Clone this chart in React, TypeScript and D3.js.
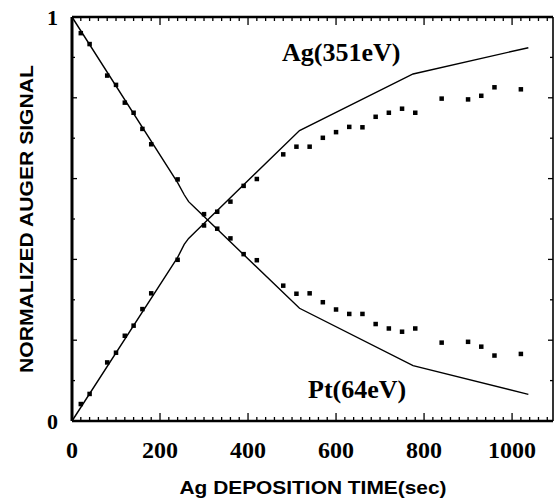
import { useEffect, useRef } from 'react';
import * as d3 from 'd3';

// measured Auger signals (squares)
const times = [20, 40, 80, 100, 120, 140, 160, 180, 240, 300, 330, 360, 390, 420, 480, 510, 540, 570, 600, 630, 660, 690, 720, 750, 780, 840, 900, 930, 960, 1020];
const ptSignal = [0.96, 0.933, 0.855, 0.832, 0.788, 0.763, 0.723, 0.685, 0.598, 0.512, 0.476, 0.452, 0.413, 0.398, 0.335, 0.315, 0.316, 0.294, 0.276, 0.265, 0.265, 0.24, 0.229, 0.221, 0.229, 0.194, 0.196, 0.184, 0.162, 0.166];
const agSignal = [0.042, 0.067, 0.145, 0.169, 0.211, 0.236, 0.277, 0.316, 0.399, 0.484, 0.518, 0.543, 0.582, 0.599, 0.66, 0.679, 0.679, 0.701, 0.715, 0.728, 0.727, 0.753, 0.763, 0.773, 0.763, 0.798, 0.796, 0.805, 0.826, 0.821];

// model curves (solid lines)
const modelTimes = [0, 240, 255, 265, 280, 517, 775, 1037];
const ptModel = [1, 0.59, 0.56, 0.543, 0.527, 0.279, 0.137, 0.066];
const agModel = [0, 0.405, 0.437, 0.452, 0.468, 0.719, 0.859, 0.924];

const xTickLabels = [0, 200, 400, 600, 800, 1000];
const yTickLabels = [0, 1];

const App = (): JSX.Element => {
  const svgRef = useRef<SVGSVGElement>(null);

  useEffect(() => {
    if (svgRef.current) {
      svgRef.current.innerHTML = '';
    }
    const width = 555;
    const height = 498;
    const left = 72;
    const right = 553;
    const top = 17;
    const bottom = 421;

    const x = d3.scaleLinear([0, 1093], [left, right]);
    const y = d3.scaleLinear([0, 1], [bottom, top]);

    const svg = d3
      .select(svgRef.current)
      .attr('width', width)
      .attr('height', height)
      .attr('viewBox', [0, 0, width, height]);

    svg.append('rect').attr('width', width).attr('height', height).attr('fill', '#fff');

    // ticks, all pointing inward
    const minorX = d3.range(0, 1093, 20);
    const tickG = svg.append('g').attr('stroke', '#000').attr('stroke-width', 1.3);
    minorX.forEach((t) => {
      const len = t % 200 === 0 ? 8 : 4;
      tickG.append('line').attr('x1', x(t)).attr('x2', x(t)).attr('y1', bottom).attr('y2', bottom - len);
      tickG.append('line').attr('x1', x(t)).attr('x2', x(t)).attr('y1', top).attr('y2', top + len);
    });
    d3.range(0.1, 1, 0.1).forEach((v, i) => {
      const len = i % 2 === 1 ? 5 : 3;
      tickG.append('line').attr('x1', left).attr('x2', left + len).attr('y1', y(v)).attr('y2', y(v));
      tickG.append('line').attr('x1', right).attr('x2', right - len).attr('y1', y(v)).attr('y2', y(v));
    });

    // frame
    const frame = svg.append('g').attr('stroke', '#000').attr('fill', 'none');
    frame.append('line').attr('x1', left).attr('x2', right).attr('y1', top).attr('y2', top).attr('stroke-width', 2.5);
    frame.append('line').attr('x1', left).attr('x2', right).attr('y1', bottom).attr('y2', bottom).attr('stroke-width', 2.5);
    frame.append('line').attr('x1', left).attr('x2', left).attr('y1', top).attr('y2', bottom).attr('stroke-width', 3);
    frame.append('line').attr('x1', right).attr('x2', right).attr('y1', top).attr('y2', bottom).attr('stroke-width', 1.6);

    // tick labels
    svg
      .append('g')
      .attr('font-family', '"Liberation Serif", "Times New Roman", serif')
      .attr('font-weight', 'bold')
      .attr('font-size', 24)
      .attr('text-anchor', 'middle')
      .selectAll('text')
      .data(xTickLabels)
      .join('text')
      .attr('x', (d) => x(d))
      .attr('y', 458)
      .text((d) => d);

    svg
      .append('g')
      .attr('font-family', '"Liberation Serif", "Times New Roman", serif')
      .attr('font-weight', 'bold')
      .attr('font-size', 22)
      .attr('text-anchor', 'end')
      .selectAll('text')
      .data(yTickLabels)
      .join('text')
      .attr('x', 58)
      .attr('y', (d) => y(d) + 8)
      .text((d) => d);

    // axis titles
    svg
      .append('text')
      .attr('x', 313)
      .attr('y', 494)
      .attr('text-anchor', 'middle')
      .attr('font-family', '"Liberation Sans", Arial, sans-serif')
      .attr('font-weight', 'bold')
      .attr('font-size', 19)
      .attr('textLength', 267)
      .attr('lengthAdjust', 'spacingAndGlyphs')
      .text('Ag DEPOSITION TIME(sec)');

    svg
      .append('text')
      .attr('transform', 'translate(33,219) rotate(-90)')
      .attr('text-anchor', 'middle')
      .attr('font-family', '"Liberation Sans", Arial, sans-serif')
      .attr('font-weight', 'bold')
      .attr('font-size', 19)
      .attr('textLength', 308)
      .attr('lengthAdjust', 'spacingAndGlyphs')
      .text('NORMALIZED AUGER SIGNAL');

    // model lines
    const line = d3
      .line<number>()
      .x((_, i) => x(modelTimes[i]))
      .y((d) => y(d));

    [ptModel, agModel].forEach((series) => {
      svg
        .append('path')
        .attr('fill', 'none')
        .attr('stroke', '#000')
        .attr('stroke-width', 1.4)
        .attr('d', line(series));
    });

    // data squares
    const size = 4.5;
    [ptSignal, agSignal].forEach((series) => {
      svg
        .append('g')
        .selectAll('rect')
        .data(series)
        .join('rect')
        .attr('x', (_, i) => x(times[i]) - size / 2)
        .attr('y', (d) => y(d) - size / 2)
        .attr('width', size)
        .attr('height', size)
        .attr('fill', '#000');
    });

    // curve labels
    const labels = svg
      .append('g')
      .attr('font-family', '"Liberation Serif", "Times New Roman", serif')
      .attr('font-weight', 'bold')
      .attr('font-size', 26);
    labels.append('text').attr('x', 282).attr('y', 61).text('Ag(351eV)');
    labels.append('text').attr('x', 308).attr('y', 398).text('Pt(64eV)');
  }, []);

  return <svg ref={svgRef} style={{ position: 'absolute', left: 0, top: 0 }} />;
};

export default App;
